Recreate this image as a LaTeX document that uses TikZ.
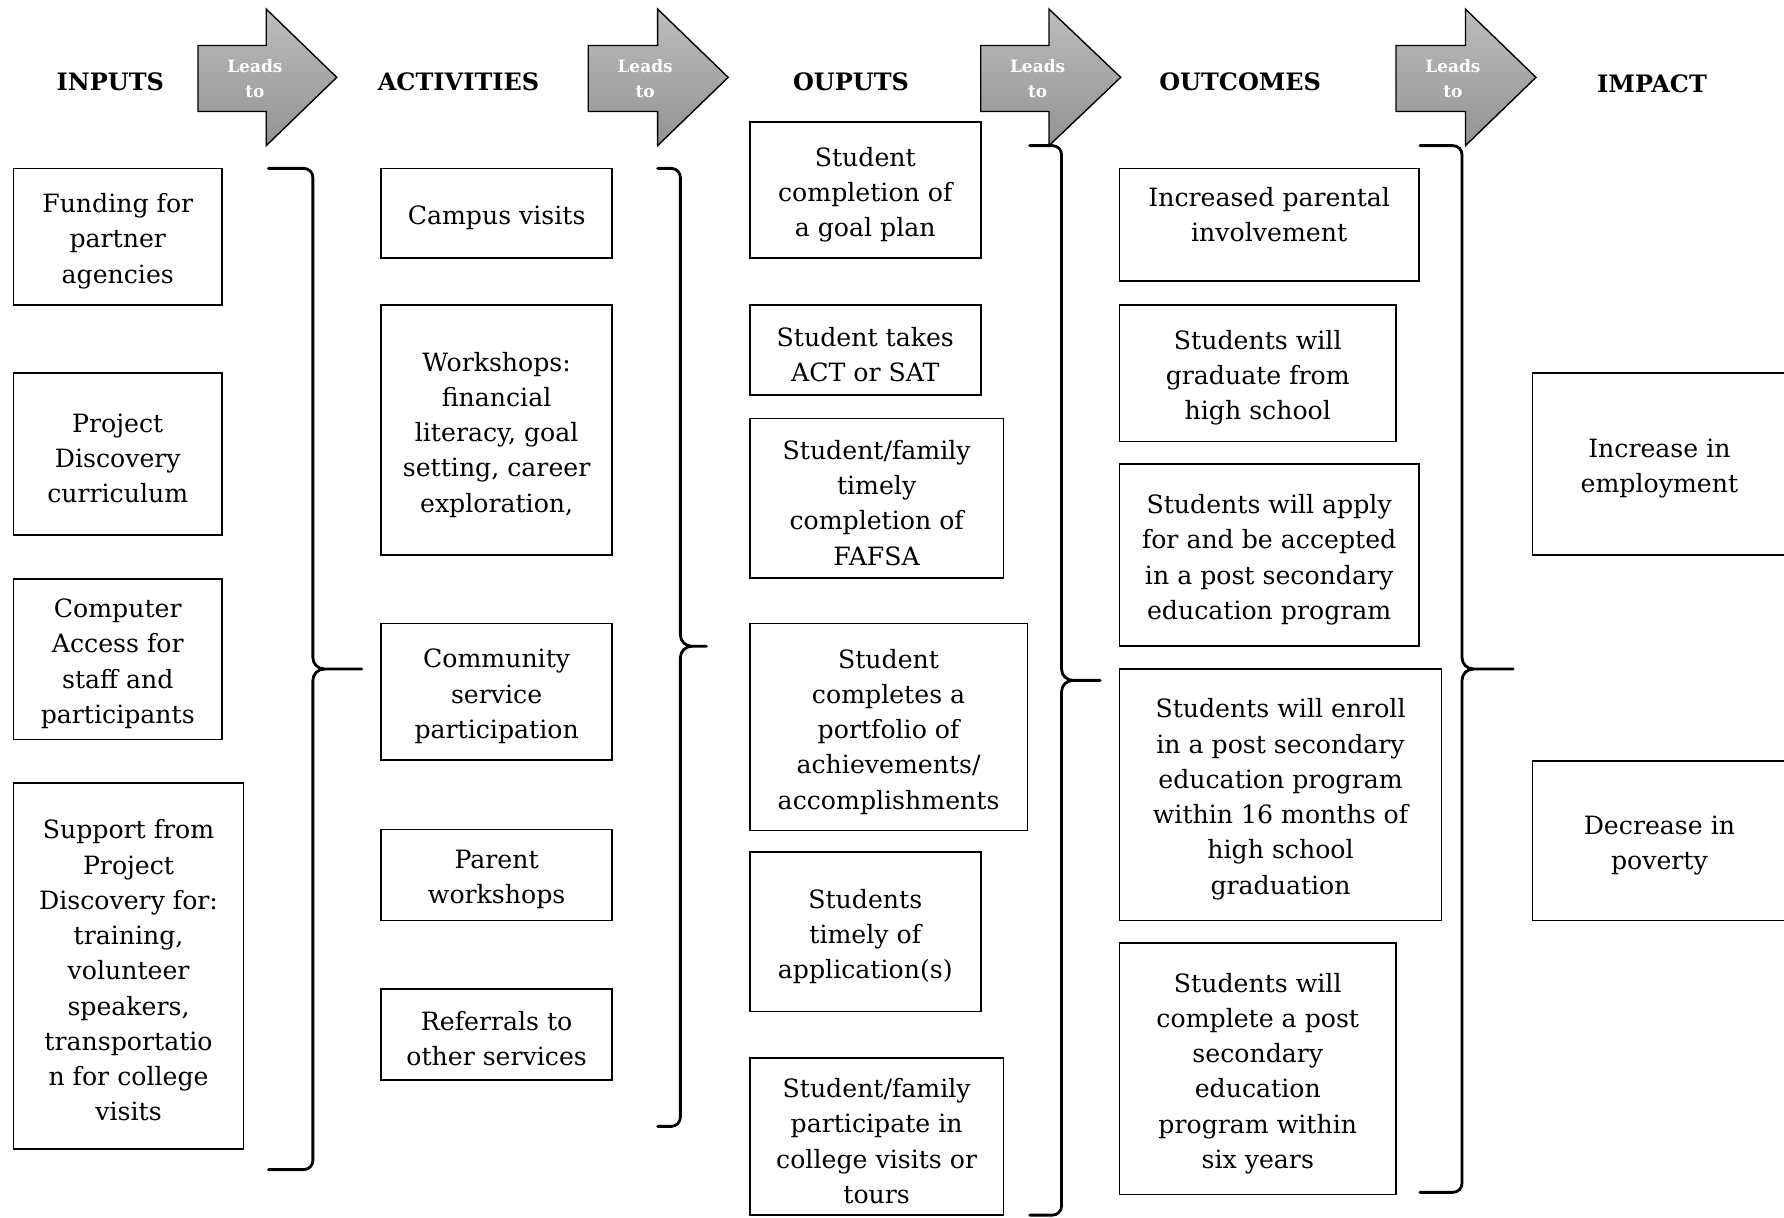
\documentclass[tikz,border=0pt]{standalone}
\usepackage{fontspec}
\setmainfont{DejaVu Serif}
\begin{document}
\tikzset{
  boxframe/.style={draw, line width=0.8pt, inner sep=0pt},
  boxtext/.style={align=center, inner sep=0pt,
    font=\fontsize{12.6}{17.64}\selectfont},
  hdr/.style={font=\fontsize{12}{14}\selectfont\bfseries},
  leadtxt/.style={text=white, align=center, font=\fontsize{8.5}{12.5}\selectfont\bfseries},
  bracestroke/.style={line width=1.4pt, line cap=round, line join=round},
  leadarrow/.style={draw=black, line width=0.7pt, top color=gray!52, bottom color=gray!85}
}
% name, x1, y1, x2, y2, text shift (px, down), text
\newcommand\bxs[7]{%
  \node[boxframe, minimum width={(#4-#2)*0.02cm}, minimum height={(#5-#3)*0.02cm}]
    (#1) at ({(#2+#4)/2},{(#3+#5)/2}) {};
  \node[boxtext] (#1-t) at ([yshift={-(#6)*0.02cm}]#1.center) {#7};}
\newcommand\bx[6]{\bxs{#1}{#2}{#3}{#4}{#5}{4}{#6}}
\newcommand\mybrace[6]{%
  \draw[bracestroke] (#1,#3) -- ({#2-8},#3) to[out=0,in=90] (#2,{#3+8})
    -- (#2,{#4-10}) to[out=-90,in=180] ({#2+10},#4) -- (#6,#4);
  \draw[bracestroke] ({#2+10},#4) to[out=180,in=90] (#2,{#4+10})
    -- (#2,{#5-8}) to[out=-90,in=0] ({#2-8},#5) -- (#1,#5);}
\newcommand\myleadarrow[5]{%
  \path[leadarrow] (#2,40) -- (#3,40) -- (#3,8) -- (#4,68) -- (#3,128) -- (#3,98) -- (#2,98) -- cycle;
  \node[leadtxt] (#1) at (#5,69) {Leads\\to};}
\begin{tikzpicture}[x=0.02cm,y=-0.02cm]
\useasboundingbox[fill=white] (0,0) rectangle (1568,1070);

% headers
\node[hdr] (hin) at (97,72) {INPUTS};
\node[hdr] (hac) at (403,72) {ACTIVITIES};
\node[hdr] (hop) at (748,72) {OUPUTS};
\node[hdr] (hoc) at (1090,72) {OUTCOMES};
\node[hdr] (him) at (1452,74) {IMPACT};

% lead arrows
\myleadarrow{l1}{174}{234}{296}{224}
\myleadarrow{l2}{517}{578}{640}{567}
\myleadarrow{l3}{862}{922}{985}{912}
\myleadarrow{l4}{1227}{1288}{1350}{1277}

% inputs
\bx{i1}{12}{148}{195}{268}{Funding for\\partner\\agencies}
\bx{i2}{12}{328}{195}{470}{Project\\Discovery\\curriculum}
\bx{i3}{12}{509}{195}{650}{Computer\\Access for\\staff and\\participants}
\bx{i4}{12}{688}{214}{1010}{Support from\\Project\\Discovery for:\\training,\\volunteer\\speakers,\\transportatio\\n for college\\visits}

% activities
\bx{a1}{335}{148}{538}{227}{Campus visits}
\bx{a2}{335}{268}{538}{488}{Workshops:\\financial\\literacy, goal\\setting, career\\exploration,}
\bx{a3}{335}{548}{538}{668}{Community\\service\\participation}
\bx{a4}{335}{729}{538}{809}{Parent\\workshops}
\bx{a5}{335}{869}{538}{949}{Referrals to\\other services}

% outputs
\bx{o1}{659}{107}{862}{227}{Student\\completion of\\a goal plan}
\bx{o2}{659}{268}{862}{347}{Student takes\\ACT or SAT}
\bx{o3}{659}{368}{882}{508}{Student/family\\timely\\completion of\\FAFSA}
\bx{o4}{659}{548}{903}{730}{Student\\completes a\\portfolio of\\achievements/\\accomplishments}
\bx{o5}{659}{749}{862}{889}{Students\\timely of\\application(s)}
\bx{o6}{659}{930}{882}{1068}{Student/family\\participate in\\college visits or\\tours}

% outcomes
\bxs{c1}{984}{148}{1247}{247}{-9}{Increased parental\\involvement}
\bx{c2}{984}{268}{1227}{388}{Students will\\graduate from\\high school}
\bx{c3}{984}{408}{1247}{568}{Students will apply\\for and be accepted\\in a post secondary\\education program}
\bx{c4}{984}{588}{1267}{809}{Students will enroll\\in a post secondary\\education program\\within 16 months of\\high school\\graduation}
\bx{c5}{984}{829}{1227}{1050}{Students will\\complete a post\\secondary\\education\\program within\\six years}

% impact
\bx{m1}{1347}{328}{1570}{488}{Increase in\\employment}
\bx{m2}{1347}{669}{1570}{809}{Decrease in\\poverty}

% braces
\mybrace{236}{275}{148}{588}{1028}{318}
\mybrace{578}{598}{148}{568}{990}{621}
\mybrace{905}{933}{128}{598}{1068}{967}
\mybrace{1248}{1285}{128}{588}{1048}{1330}
\end{tikzpicture}
\end{document}
